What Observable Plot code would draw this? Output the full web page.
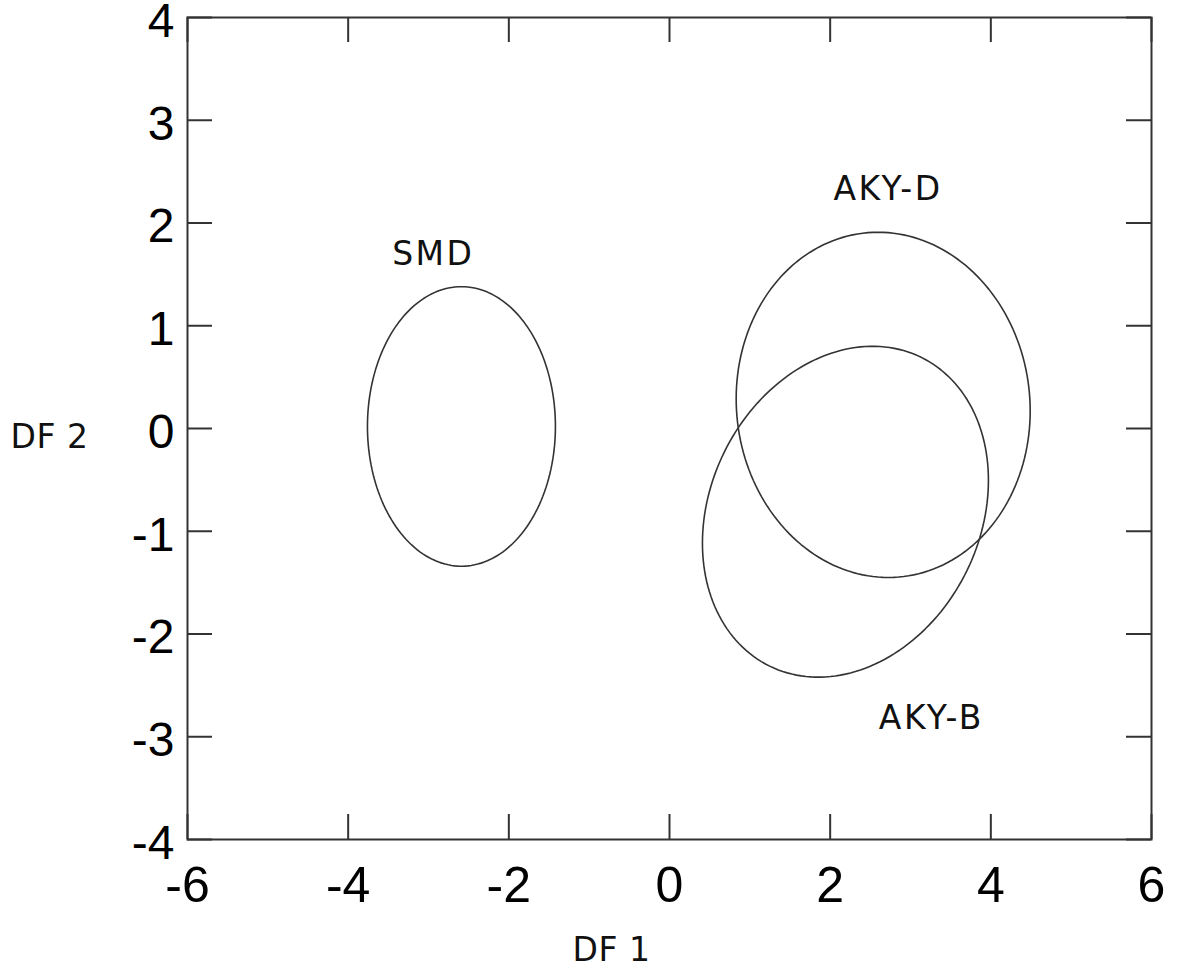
<!DOCTYPE html>
<html>
<head>
<meta charset="utf-8">
<script src="https://cdn.jsdelivr.net/npm/d3@7"></script>
<script src="https://cdn.jsdelivr.net/npm/@observablehq/plot@0.6"></script>
<style>
  html, body { margin: 0; padding: 0; background: #fff; }
  #chart svg { display: block; }
  #chart g[aria-label="text"] { letter-spacing: 2.5px; }
  #chart g[aria-label="text"].axis-title { letter-spacing: 0.5px; }
</style>
</head>
<body>
<div id="chart"></div>
<script>
// Discriminant-function group ellipses (DF 1 vs DF 2)
const groups   = ["SMD", "AKY-D", "AKY-B"];
const centerX  = [-2.59, 2.66, 2.19];   // group centroid on DF 1
const centerY  = [0.02, 0.23, -0.81];   // group centroid on DF 2
const spreadX  = [1.17, 1.83, 1.78];    // half-extent along DF 1
const spreadY  = [1.36, 1.68, 1.61];    // half-extent along DF 2
const corr     = [0.0, -0.035, 0.19];   // DF1–DF2 correlation inside each group

// Group label positions
const labelX = [-2.94, 2.72, 3.26];
const labelY = [1.69, 2.33, -2.82];

// Axis ticks
const xTicks = [-6, -4, -2, 0, 2, 4, 6];
const xTickLabels = ["-6", "-4", "-2", "0", "2", "4", "6"];
const yTicks = [-4, -3, -2, -1, 0, 1, 2, 3, 4];
const yTickLabels = ["-4", "-3", "-2", "-1", "0", "1", "2", "3", "4"];

// Ellipse outlines from centroid, half-extents and correlation
const steps = 180;
const outline = groups.flatMap((g, i) => {
  const s = Math.sqrt(1 - corr[i] * corr[i]);
  return d3.range(steps).map(k => {
    const t = (2 * Math.PI * k) / steps;
    return {
      group: g,
      x: centerX[i] + spreadX[i] * Math.cos(t),
      y: centerY[i] + spreadY[i] * (corr[i] * Math.cos(t) + s * Math.sin(t))
    };
  });
});
const labels = groups.map((g, i) => ({text: g, x: labelX[i], y: labelY[i]}));

const W = 1188, H = 973;
const mL = 187, mR = 37, mT = 17, mB = 134;
const innerH = H - mT - mB;
const innerW = W - mL - mR;
const tickLen = 25;
const ink = "#333";
const tickFont = "Liberation Sans, Arial, sans-serif";
const labelFont = "DejaVu Sans, sans-serif";

const chart = Plot.plot({
  width: W,
  height: H,
  marginLeft: mL,
  marginRight: mR,
  marginTop: mT,
  marginBottom: mB,
  style: {background: "#fff", color: "#000"},
  x: {domain: [-6, 6]},
  y: {domain: [-4, 4]},
  marks: [
    // inward ticks on all four sides
    Plot.tickX(xTicks, {x: d => d, insetTop: innerH - tickLen, stroke: ink, strokeWidth: 2}),
    Plot.tickX(xTicks, {x: d => d, insetBottom: innerH - tickLen, stroke: ink, strokeWidth: 2}),
    Plot.tickY(yTicks, {y: d => d, insetRight: innerW - tickLen, stroke: ink, strokeWidth: 2}),
    Plot.tickY(yTicks, {y: d => d, insetLeft: innerW - tickLen, stroke: ink, strokeWidth: 2}),
    Plot.frame({stroke: ink, strokeWidth: 2}),
    Plot.axisX({
      ticks: xTicks, tickSize: 0, tickPadding: 27, label: null,
      tickFormat: d => xTickLabels[xTicks.indexOf(d)],
      fontSize: 50, fontFamily: tickFont, fill: "#000"
    }),
    Plot.axisY({
      ticks: yTicks, tickSize: 0, tickPadding: 13, label: null, dy: 4,
      tickFormat: d => yTickLabels[yTicks.indexOf(d)],
      fontSize: 48, fontFamily: tickFont, fill: "#000"
    }),
    // group ellipses
    Plot.line(outline, {x: "x", y: "y", z: "group", curve: "linear-closed", stroke: ink, strokeWidth: 1.6}),
    // group names
    Plot.text(labels, {
      x: "x", y: "y", text: "text",
      fontSize: 33, fontFamily: labelFont, fill: "#111"
    }),
    // axis titles
    Plot.text(["DF 2"], {
      frameAnchor: "left", textAnchor: "middle", lineAnchor: "middle",
      text: d => d, dx: -138, dy: 9,
      fontSize: 33, fontFamily: labelFont, fill: "#111"
    }),
    Plot.text(["DF 1"], {
      frameAnchor: "bottom", textAnchor: "middle", lineAnchor: "middle",
      text: d => d, dx: -58, dy: 111,
      fontSize: 33, fontFamily: labelFont, fill: "#111"
    })
  ]
});

// The two axis titles use tighter letter spacing than the group names
const textGroups = d3.select(chart).selectAll('g[aria-label="text"]').nodes();
textGroups.slice(1).forEach(n => n.classList.add("axis-title"));

document.getElementById("chart").appendChild(chart);
</script>
</body>
</html>
